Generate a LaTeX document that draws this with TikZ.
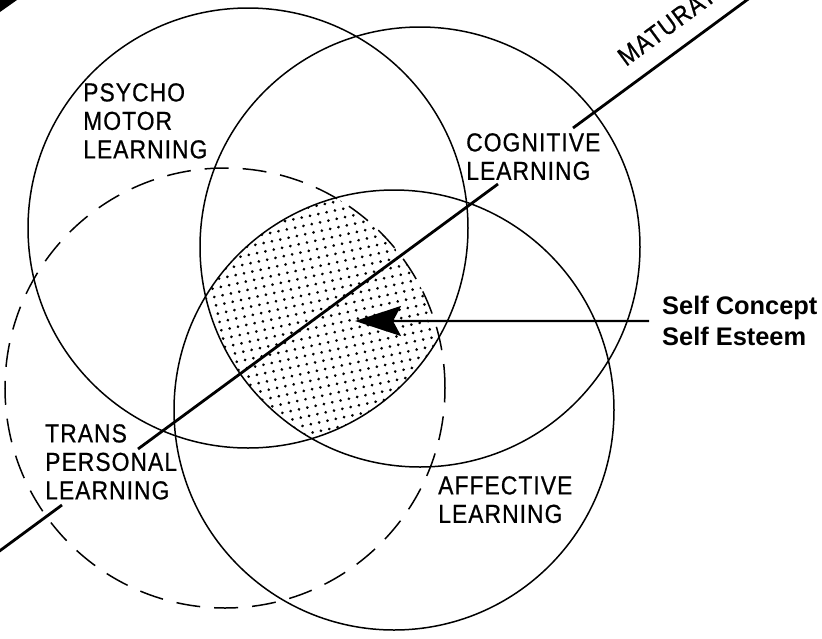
\documentclass[tikz,border=0pt]{standalone}
\usepackage{fontspec}
\setmainfont{Liberation Sans}
\newfontfamily\letterfont[FakeStretch=0.88, LetterSpace=4, FakeBold=0.6]{Liberation Sans}
\usetikzlibrary{arrows.meta, patterns.meta}

\begin{document}
\begin{tikzpicture}[x=1pt, y=-1pt,
    ring/.style={draw, circle, line width=1.5pt, minimum size=440pt, inner sep=0pt},
    halo/.style={ring, dash pattern=on 24pt off 14pt},
    area/.style={font=\letterfont\fontsize{26}{28.5}\selectfont, align=left,
                 inner sep=0pt, anchor=north west},
    axis/.style={line width=2.8pt},
    pointer/.style={-{Stealth[length=46pt, width=30pt, inset=8pt]}, line width=2.2pt},
    dotfill/.style={pattern={Dots[distance=8.5pt, radius=1.5pt, angle=12]}}]
  \useasboundingbox (0,0) rectangle (822,638);
  \clip (0,0) rectangle (822,638);
  \coordinate (pc) at (248,228);
  \coordinate (cc) at (420,247);
  \coordinate (ac) at (394,410);
  \coordinate (tc) at (225,388);
  \begin{scope}
    \clip (pc) circle[radius=220pt];
    \clip (cc) circle[radius=220pt];
    \clip (tc) circle[radius=220pt];
    \fill[dotfill] (ac) circle[radius=220pt];
  \end{scope}
  \node[ring] (psy) at (pc) {};
  \node[ring] (cog) at (cc) {};
  \node[ring] (aff) at (ac) {};
  \node[halo] (trn) at (tc) {};
  \coordinate (m0) at (-10,558);
  \coordinate (m1) at (62,505);
  \coordinate (m2) at (138,449);
  \coordinate (m3) at (498,184);
  \coordinate (m4) at (573,128);
  \coordinate (m5) at (770,-17);
  \draw[axis] (m0) -- (m1) (m2) -- (m3) (m4) -- (m5);
  \node[area] (psyL) at (83,83) {PSYCHO\\MOTOR\\LEARNING};
  \node[area] (cogL) at (466,133) {COGNITIVE\\LEARNING};
  \node[area] (trnL) at (45,424) {TRANS\\PERSONAL\\LEARNING};
  \node[area] (affL) at (438,476) {AFFECTIVE\\LEARNING};
  \node[font=\letterfont\fontsize{26}{28}\selectfont, rotate=36.4,
        anchor=base west, inner sep=0pt] (matL) at (626,67) {MATURATION};
  \node[font=\bfseries\fontsize{25.4}{31}\selectfont, align=left,
        inner sep=0pt, anchor=north west] (selfL) at (662,296)
    {Self Concept\\Self Esteem};
  \coordinate (core) at (355,321);
  \draw[pointer] ([xshift=-13pt]selfL.west) -- (core);
  \fill (0,0) -- (17,0) -- (0,12) -- cycle;
\end{tikzpicture}
\end{document}
